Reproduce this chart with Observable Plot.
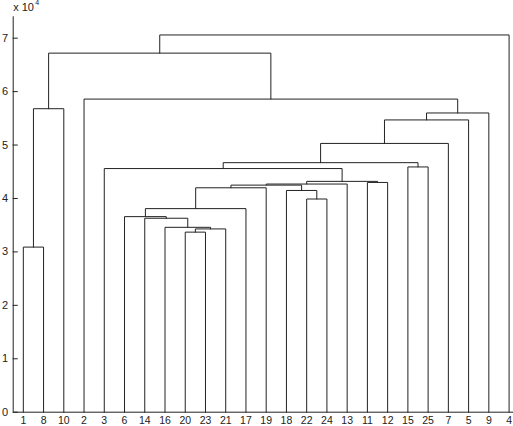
<!DOCTYPE html>
<html>
<head>
<meta charset="utf-8">
<script src="https://cdn.jsdelivr.net/npm/d3@7"></script>
<script src="https://cdn.jsdelivr.net/npm/@observablehq/plot@0.6"></script>
<style>
  html, body { margin: 0; padding: 0; background: #fff; }
  #chart svg { display: block; }
</style>
</head>
<body>
<div id="chart"></div>
<script>
// Leaf order along the x axis (tick labels)
const leafOrder = [1, 8, 10, 2, 3, 6, 14, 16, 20, 23, 21, 17, 19, 18, 22, 24, 13, 11, 12, 15, 25, 7, 5, 9, 4];
// Linkage rows: cluster 26 + row index joins mergeA[i] and mergeB[i] at mergeH[i]
const mergeA = [1, 20, 27, 16, 14, 6, 31, 22, 18, 32, 35, 36, 11, 37, 3, 15, 40, 42, 43, 44, 26, 2, 46, 48];
const mergeB = [8, 23, 21, 28, 29, 30, 17, 24, 33, 19, 34, 13, 12, 38, 39, 25, 41, 7, 5, 9, 10, 45, 47, 4];
const mergeH = [30900, 33700, 34300, 34600, 36300, 36600, 38100, 39900, 41500, 42000, 42500, 42700, 43000, 43200,
                45600, 45900, 46700, 50300, 54700, 56000, 56800, 58600, 67200, 70600];
// Y tick values
const yTicks = [0, 10000, 20000, 30000, 40000, 50000, 60000, 70000];

const nLeaves = leafOrder.length;
const pos = new Map();
leafOrder.forEach((id, i) => pos.set(id, {x: i + 1, h: 0}));
const segments = [];
mergeA.forEach((a, i) => {
  const A = pos.get(a), B = pos.get(mergeB[i]), h = mergeH[i];
  pos.set(nLeaves + 1 + i, {x: (A.x + B.x) / 2, h});
  segments.push(
    {k: i, x: A.x, y: A.h},
    {k: i, x: A.x, y: h},
    {k: i, x: B.x, y: h},
    {k: i, x: B.x, y: B.h}
  );
});

const leafTicks = leafOrder.map((d, i) => ({x: i + 1, label: String(d)}));
const font = "Liberation Sans, Arial, Helvetica, sans-serif";

const chart = Plot.plot({
  width: 513,
  height: 426,
  marginLeft: 0, marginRight: 0, marginTop: 0, marginBottom: 0,
  style: {fontFamily: font, fontSize: "11px", background: "#fff", color: "#222"},
  x: {domain: [0.5, 25.5], range: [12.7, 518.7], axis: null},
  y: {domain: [0, 74000], range: [411.7, 16.3], axis: null},
  marks: [
    // dendrogram links
    Plot.line(segments, {x: "x", y: "y", z: "k", stroke: "#222", strokeWidth: 1}),
    // axes lines
    Plot.ruleX([0.5], {y1: 0, y2: 74000, stroke: "#222", strokeWidth: 1}),
    Plot.ruleY([0], {x1: 0.5, x2: 25.5, stroke: "#222", strokeWidth: 1}),
    // y ticks (inward)
    Plot.ruleY(yTicks, {y: d => d, x1: 0.5, x2: 0.75, stroke: "#222", strokeWidth: 1}),
    Plot.text(yTicks, {x: 0.5, y: d => d, text: d => String(d / 10000), dx: -5, textAnchor: "end", fill: "#222", fontSize: 11}),
    // x tick labels
    Plot.text(leafTicks, {x: "x", y: 0, text: "label", dy: 8, fill: "#222", fontSize: 10.5}),
    // exponent label
    Plot.text(["x 10"], {x: 0.5, y: 74000, text: d => d, dy: -9, textAnchor: "start", fill: "#222", fontSize: 11}),
    Plot.text(["4"], {x: 0.5, y: 74000, text: d => d, dx: 22, dy: -14, textAnchor: "start", fill: "#222", fontSize: 7})
  ]
});
document.getElementById("chart").appendChild(chart);
</script>
</body>
</html>
